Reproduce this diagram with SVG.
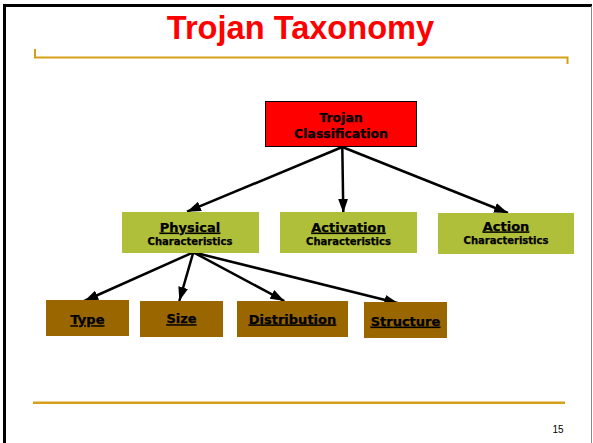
<svg xmlns="http://www.w3.org/2000/svg" width="593" height="443" viewBox="0 0 593 443">
<defs>
<marker id="ah" viewBox="0 0 14 10" refX="14" refY="5" markerWidth="14" markerHeight="10" markerUnits="userSpaceOnUse" orient="auto">
<path d="M0,0 L14,5 L0,10 Z" fill="#000"/>
</marker>
<style>
.lbl{font-family:"DejaVu Sans",Verdana,sans-serif;font-weight:bold;fill:#000;text-anchor:middle;stroke:#000;stroke-width:0.25}
.main{font-size:13px;text-decoration:underline}
.sub{font-size:10px}
.green{fill:#afbf3a}
.brown{fill:#996600}
.gold{stroke:#d4a017;fill:none}
.conn line{stroke:#000;stroke-width:2.5;marker-end:url(#ah)}
</style>
</defs>
<rect width="593" height="443" fill="#fff"/>
<g id="frame">
<rect x="3" y="4" width="589" height="3" fill="#000"/>
<rect x="3" y="4" width="3" height="439" fill="#000"/>
<line x1="591.5" y1="6" x2="591.5" y2="443" stroke="#888" stroke-width="1"/>
<polyline class="gold" points="35,49 35,57.5 567.5,57.5 567.5,64" stroke-width="2"/>
<line class="gold" x1="33" y1="402.7" x2="565" y2="402.7" stroke-width="2.5"/>
<text x="300.5" y="38.5" font-family="'Liberation Sans',Arial,sans-serif" font-weight="bold" font-size="32.6" fill="#ff0000" text-anchor="middle">Trojan Taxonomy</text>
<text x="558" y="433" font-family="'Liberation Sans',Arial,sans-serif" font-size="10" fill="#000" text-anchor="middle">15</text>
</g>
<g class="conn" id="connectors">
<line x1="342.3" y1="147" x2="187" y2="211.7"/>
<line x1="342.3" y1="147" x2="343.3" y2="212.7"/>
<line x1="342.3" y1="147" x2="508" y2="213"/>
<line x1="193.3" y1="252.3" x2="84.3" y2="301"/>
<line x1="193.3" y1="252.3" x2="179.3" y2="301"/>
<line x1="193.3" y1="252.3" x2="284.3" y2="301"/>
<line x1="193.3" y1="252.3" x2="398.3" y2="303.3"/>
</g>
<g id="trojan-classification">
<rect x="265.5" y="101.5" width="151" height="45" fill="#ff0000" stroke="#000" stroke-width="1"/>
<text class="lbl" x="341" y="121.7" font-size="12.5">Trojan</text>
<text class="lbl" x="341" y="137.7" font-size="12.5">Classification</text>
</g>
<g id="physical">
<rect class="green" x="122" y="212" width="137" height="41"/>
<text class="lbl main" x="190" y="231.7">Physical</text>
<text class="lbl sub" x="190" y="244.5">Characteristics</text>
</g>
<g id="activation">
<rect class="green" x="280" y="212" width="137" height="41"/>
<text class="lbl main" x="348.5" y="231.7">Activation</text>
<text class="lbl sub" x="348.5" y="244.5">Characteristics</text>
</g>
<g id="action">
<rect class="green" x="438" y="213" width="136" height="41"/>
<text class="lbl main" x="506" y="230.5">Action</text>
<text class="lbl sub" x="506" y="243.5">Characteristics</text>
</g>
<g id="type">
<rect class="brown" x="46" y="300" width="83" height="36"/>
<text class="lbl main" x="87.5" y="324.3">Type</text>
</g>
<g id="size">
<rect class="brown" x="140" y="301" width="83" height="36"/>
<text class="lbl main" x="181.5" y="323.3">Size</text>
</g>
<g id="distribution">
<rect class="brown" x="237" y="301" width="111" height="36"/>
<text class="lbl main" x="292.5" y="323.5">Distribution</text>
</g>
<g id="structure">
<rect class="brown" x="364" y="302" width="83" height="36"/>
<text class="lbl main" x="405.5" y="325.7">Structure</text>
</g>
</svg>
